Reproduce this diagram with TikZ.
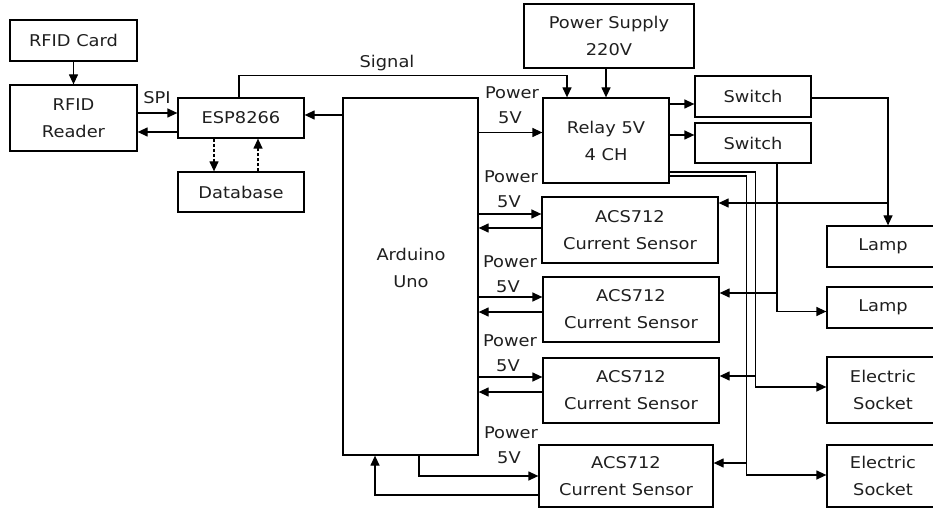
\documentclass[tikz,border=0pt]{standalone}
\usepackage{fontspec}
\setmainfont{DejaVu Sans}[FakeStretch=1.1]
\usetikzlibrary{arrows.meta,calc}
\begin{document}
\begin{tikzpicture}[x=1pt,y=-1pt,
  lbl/.style={inner sep=0pt, align=center, text=black!88, font=\fontsize{16.2}{27}\selectfont},
  box/.style={lbl, draw=black, line width=1.25pt},
  arr/.style={line width=1.25pt, -{Triangle[length=10pt,width=9pt]}},
  dsh/.style={arr, dash pattern=on 3pt off 2pt}
]
\useasboundingbox (0,0) rectangle (933,510);
% boxes
\node[box, minimum width=127pt, minimum height=41pt] (card) at (73.5,40.5) {RFID Card};
\node[box, minimum width=127pt, minimum height=66pt] (reader) at (73.5,118) {RFID\\Reader};
\node[box, minimum width=126pt, minimum height=40pt] (esp) at (241,118) {ESP8266};
\node[box, minimum width=126pt, minimum height=40pt] (db) at (241,192) {Database};
\node[box, minimum width=135pt, minimum height=357pt] (ard) at (410.5,276.5) {};
\node[lbl] (ardt) at (411,268) {Arduino\\Uno};
\node[box, minimum width=170pt, minimum height=64pt] (ps) at (609,36) {Power Supply\\220V};
\node[box, minimum width=126pt, minimum height=85pt] (relay) at (606,140.5) {Relay 5V\\4 CH};
\node[box, minimum width=116pt, minimum height=41pt] (sw1) at (753,96.5) {Switch};
\node[box, minimum width=116pt, minimum height=40pt] (sw2) at (753,143) {Switch};
\node[box, minimum width=176pt, minimum height=66pt] (acs1) at (630,230) {ACS712\\Current Sensor};
\node[box, minimum width=176pt, minimum height=65pt] (acs2) at (631,309.5) {ACS712\\Current Sensor};
\node[box, minimum width=176pt, minimum height=65pt] (acs3) at (631,390.5) {ACS712\\Current Sensor};
\node[box, minimum width=174pt, minimum height=62pt] (acs4) at (626,476) {ACS712\\Current Sensor};
\node[box, minimum width=112pt, minimum height=41pt] (lamp1) at (883,246.5) {Lamp};
\node[box, minimum width=112pt, minimum height=41pt] (lamp2) at (883,307.5) {Lamp};
\node[box, minimum width=112pt, minimum height=66pt] (sock1) at (883,390) {Electric\\Socket};
\node[box, minimum width=112pt, minimum height=62pt] (sock2) at (883,476) {Electric\\Socket};
% labels
\node[lbl] (spi) at (157,98) {SPI};
\node[lbl] (sig) at (387,63) {Signal};
\node[lbl] (p0) at (512,93) {Power};
\node[lbl] (v0) at (510,118) {5V};
\node[lbl] (p1) at (511,177) {Power};
\node[lbl] (v1l) at (509,202) {5V};
\node[lbl] (p2) at (510,262) {Power};
\node[lbl] (v2l) at (508,287) {5V};
\node[lbl] (p3) at (510,341) {Power};
\node[lbl] (v3l) at (508,366) {5V};
\node[lbl] (p4) at (511,433) {Power};
\node[lbl] (v4l) at (509,458) {5V};
% left connectors
\draw[arr] (card) -- (reader);
\draw[arr] ([yshift=5pt]reader.east) -- ([yshift=5pt]esp.west);
\draw[arr] ([yshift=-14pt]esp.west) -- ([yshift=-14pt]reader.east);
\coordinate (espin) at ([yshift=3pt]esp.east);
\draw[arr] (ard.west |- espin) -- (espin);
\draw[dsh] ([xshift=-27pt]esp.south) -- ([xshift=-27pt]db.north);
\draw[dsh] ([xshift=17pt]db.north) -- ([xshift=17pt]esp.south);
% signal and supply
\coordinate (sigs) at ([xshift=-2pt]esp.north);
\coordinate (sige) at ([xshift=-39pt]relay.north);
\draw[arr] (sigs) -- ++(0,-22) -| (sige);
\draw[arr] (relay.north |- ps.south) -- (relay.north);
% arduino power
\coordinate (rin) at ([yshift=8pt]relay.west);
\draw[arr] (ard.east |- rin) -- (rin);
\coordinate (a1in) at ([yshift=16pt]acs1.west);
\draw[arr] (ard.east |- a1in) -- (a1in);
\coordinate (a1bk) at ([yshift=2pt]acs1.west);
\draw[arr] (a1bk) -- (ard.east |- a1bk);
\coordinate (a2in) at ([yshift=12.5pt]acs2.west);
\draw[arr] (ard.east |- a2in) -- (a2in);
\coordinate (a2bk) at ([yshift=-2.5pt]acs2.west);
\draw[arr] (a2bk) -- (ard.east |- a2bk);
\coordinate (a3in) at ([yshift=13.5pt]acs3.west);
\draw[arr] (ard.east |- a3in) -- (a3in);
\coordinate (a3bk) at ([yshift=-1.5pt]acs3.west);
\draw[arr] (a3bk) -- (ard.east |- a3bk);
\draw[arr] ([xshift=8.5pt]ard.south) |- (acs4.west);
\coordinate (a4bk) at ([yshift=-19pt]acs4.west);
\draw[arr] (a4bk) -| ([xshift=-35.5pt]ard.south);
% relay to switches
\coordinate (s1in) at ([yshift=-7.5pt]sw1.west);
\draw[arr] (relay.east |- s1in) -- (s1in);
\coordinate (s2in) at ([yshift=8pt]sw2.west);
\draw[arr] (relay.east |- s2in) -- (s2in);
% switches to lamps
\coordinate (l1top) at ([xshift=5pt]lamp1.north);
\coordinate (s1out) at ([yshift=-1.5pt]sw1.east);
\draw[arr] (s1out) -| (l1top);
\coordinate (a1out) at ([yshift=27pt]acs1.east);
\draw[arr] (l1top |- a1out) -- (a1out);
\coordinate (s2b) at ([xshift=24pt]sw2.south);
\coordinate (l2in) at ([yshift=-4pt]lamp2.west);
\draw[arr] (s2b) |- (l2in);
\coordinate (a2out) at ([yshift=16.5pt]acs2.east);
\draw[arr] (s2b |- a2out) -- (a2out);
% relay to sockets
\coordinate (r1) at ([yshift=-31.5pt]relay.east);
\coordinate (k1in) at ([yshift=3pt]sock1.west);
\coordinate (vv1) at ([xshift=-71pt]k1in);
\draw[arr] (r1) -| (vv1) -- (k1in);
\coordinate (a3out) at ([yshift=14.5pt]acs3.east);
\draw[arr] (vv1 |- a3out) -- (a3out);
\coordinate (r2) at ([yshift=-35.5pt]relay.east);
\coordinate (k2in) at ([yshift=1pt]sock2.west);
\coordinate (vv2) at ([xshift=-80pt]k2in);
\draw[arr] (r2) -| (vv2) -- (k2in);
\coordinate (a4out) at ([yshift=13pt]acs4.east);
\draw[arr] (vv2 |- a4out) -- (a4out);
\end{tikzpicture}
\end{document}
